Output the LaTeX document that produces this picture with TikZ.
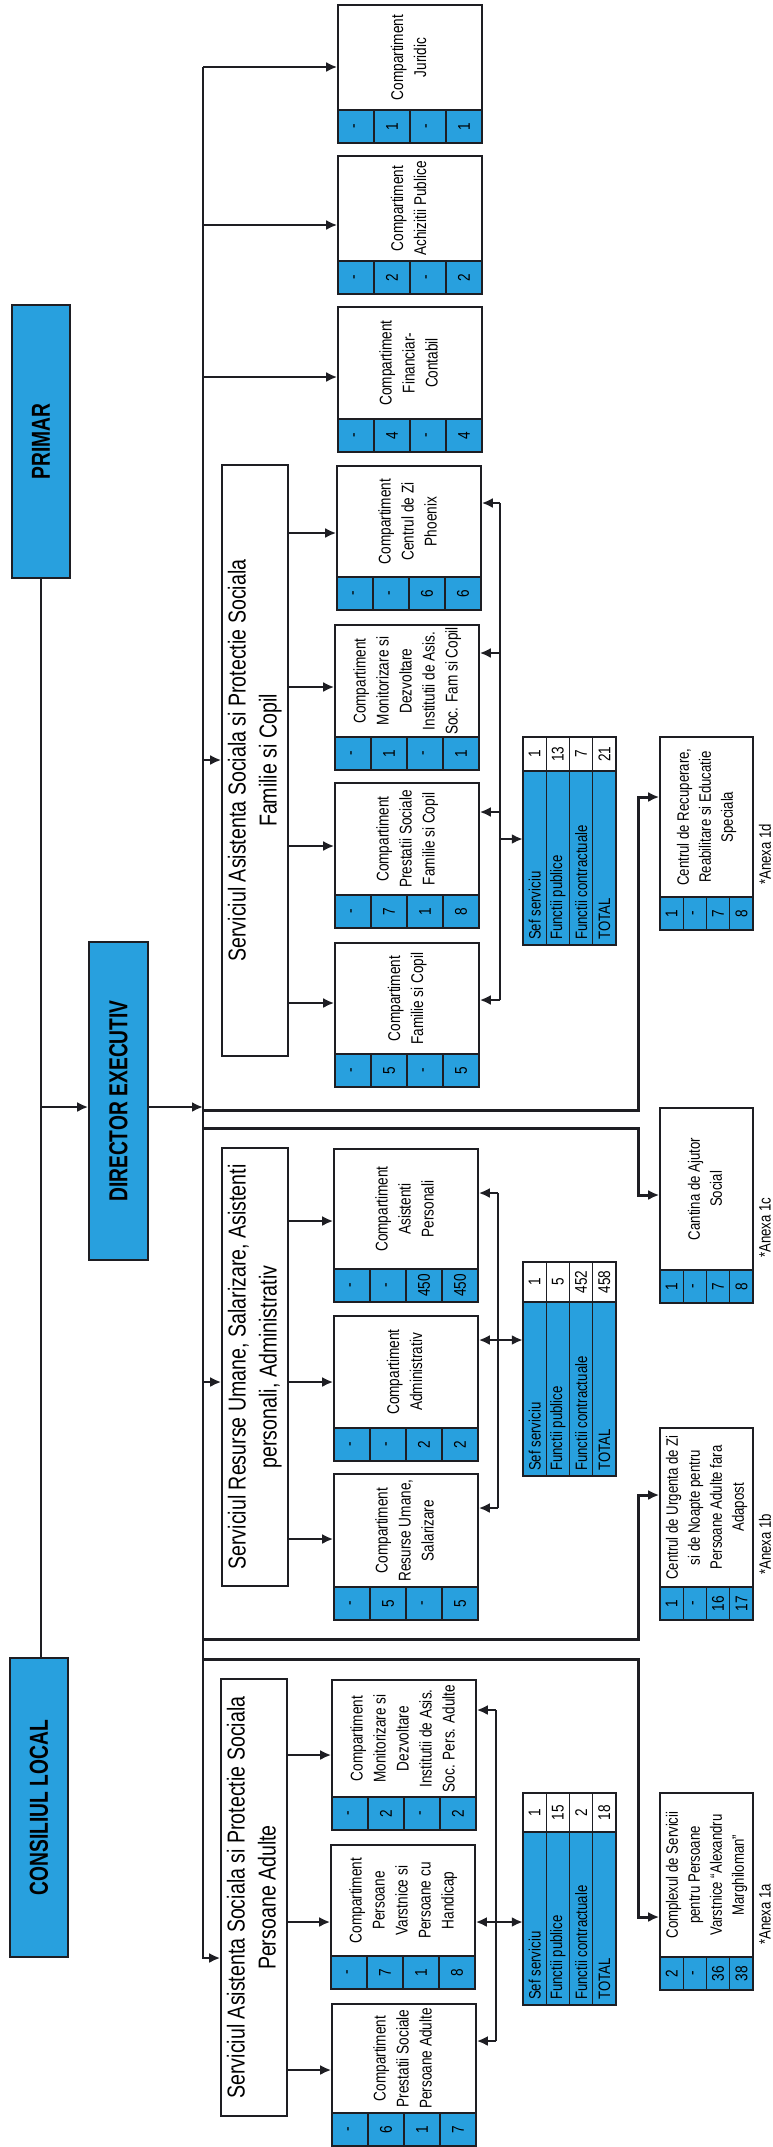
\documentclass[tikz,border=0pt]{standalone}
\usepackage{fontspec}
\setmainfont{Liberation Sans}[FakeStretch=0.8]
\newfontfamily\titlefont{Liberation Sans}[FakeStretch=0.74]
\usepackage{graphicx}
\usetikzlibrary{arrows.meta,calc}
\definecolor{cblue}{RGB}{40,160,222}
\definecolor{lc}{RGB}{30,30,35}

\newcommand{\rot}[1]{\rotatebox{90}{#1}}
\newcommand{\ml}[1]{\rotatebox{90}{\begin{tabular}{@{}c@{}}#1\end{tabular}}}

\tikzset{
 box/.style={draw=lc, line width=1.6pt, fill=white, inner sep=0pt},
 tbox/.style={draw=lc, line width=1.6pt, fill=cblue, inner sep=0pt, font=\titlefont\bfseries\fontsize{26}{30}\selectfont},
 ctext/.style={inner sep=0pt, font=\fontsize{17}{23}\selectfont},
 atext/.style={inner sep=0pt, font=\fontsize{16.5}{22}\selectfont},
 stext/.style={inner sep=0pt, font=\fontsize{24.5}{31}\selectfont},
 cell/.style={draw=lc, line width=1.4pt, fill=cblue, inner sep=0pt, minimum height=33pt, font=\fontsize{17}{20}\selectfont},
 vcell/.style={draw=lc, line width=1.4pt, fill=white, inner sep=0pt, font=\fontsize{17}{20}\selectfont},
 bcell/.style={draw=lc, line width=1.4pt, fill=cblue, inner sep=0pt},
 lab/.style={inner sep=0pt, font=\fontsize{16.5}{20}\selectfont},
 ln/.style={draw=lc, line width=2.2pt},
 arr/.style={draw=lc, line width=2.2pt, -{Latex[length=11pt,width=10pt]}},
 hvy/.style={line width=3pt},
}

% compartment: name, xleft, ytop, ybot, text, v1..v4
\newcommand{\comp}[9]{%
  \node[box, minimum width=144, minimum height={#4-#3}] (#1) at ({#2+72},{(#3+#4)/2}) {};
  \node[ctext] (#1t) at ({#2+72},{(#3+#4-33)/2}) {\ml{#5}};
  \node[cell, minimum width=36] (#1a) at ({#2+18},{#4-16.5}) {\rot{#6}};
  \node[cell, minimum width=36] (#1b) at ({#2+54},{#4-16.5}) {\rot{#7}};
  \node[cell, minimum width=36] (#1c) at ({#2+90},{#4-16.5}) {\rot{#8}};
  \node[cell, minimum width=36] (#1d) at ({#2+126},{#4-16.5}) {\rot{#9}};
}
% annex box: name, ytop, ybot, text, v1..v4, label
\newcommand{\annex}[9]{%
  \node[box, minimum width=93, minimum height={#3-#2}] (#1) at (706.5,{(#2+#3)/2}) {};
  \node[atext] (#1t) at (706.5,{(#2+#3-33)/2}) {\ml{#4}};
  \node[cell, minimum width=23.25] (#1a) at (671.6,{#3-16.5}) {\rot{#5}};
  \node[cell, minimum width=23.25] (#1b) at (694.9,{#3-16.5}) {\rot{#6}};
  \node[cell, minimum width=23.25] (#1c) at (718.1,{#3-16.5}) {\rot{#7}};
  \node[cell, minimum width=23.25] (#1d) at (741.4,{#3-16.5}) {\rot{#8}};
  \node[lab, anchor=south] (#1x) at (765,{#3-45}) {\rot{#9}};
}
% staff table: name, ytop, yval, ybot, v1..v4
\newcommand{\seftab}[8]{%
  \node[inner sep=0pt, minimum width=93, minimum height={#4-#2}] (#1) at (569.5,{(#2+#4)/2}) {};
  \foreach \i/\v/\l in {0/#5/Sef serviciu,1/#6/Functii publice,2/#7/Functii contractuale,3/#8/TOTAL} {
    \node[vcell, minimum width=23.25, minimum height={#3-#2}] (#1v\i) at ({534.6+23.25*\i},{(#2+#3)/2}) {\rot{\v}};
    \node[bcell, minimum width=23.25, minimum height={#4-#3}] (#1b\i) at ({534.6+23.25*\i},{(#3+#4)/2}) {};
    \node[lab, anchor=south] (#1l\i) at ({534.6+23.25*\i},{#4-5}) {\rot{\l}};
  }
}

\begin{document}
\begin{tikzpicture}[x=1pt,y=-1pt]
\useasboundingbox (0,0) rectangle (773,2147);
\fill[white] (0,0) rectangle (773,2147);

% top level
\node[tbox, minimum width=58, minimum height=273] (primar) at (41,441.5) {\rot{PRIMAR}};
\node[tbox, minimum width=58, minimum height=299] (consiliul) at (39,1807.5) {\rot{CONSILIUL LOCAL}};
\node[tbox, minimum width=59, minimum height=318] (director) at (118.5,1101) {\rot{DIRECTOR EXECUTIV}};

% services
\node[box, minimum width=66, minimum height=591] (sF) at (255,760.5) {};
\node[stext] (sFt) at (255,760.5) {\ml{Serviciul Asistenta Sociala si Protectie Sociala\\Familie si Copil}};
\node[box, minimum width=66, minimum height=438] (sR) at (255,1367) {};
\node[stext] (sRt) at (255,1367) {\ml{Serviciul Resurse Umane, Salarizare, Asistenti\\personali, Administrativ}};
\node[box, minimum width=66, minimum height=437] (sA) at (254,1897.5) {};
\node[stext] (sAt) at (254,1897.5) {\ml{Serviciul Asistenta Sociala si Protectie Sociala\\Persoane Adulte}};

% compartments
\comp{c1}{338}{5}{143}{Compartiment\\Juridic}{-}{1}{-}{1}
\comp{c2}{338}{156}{294}{Compartiment\\Achizitii Publice}{-}{2}{-}{2}
\comp{c3}{338}{307}{452}{Compartiment\\Financiar-\\Contabil}{-}{4}{-}{4}
\comp{c4}{337}{466}{610}{Compartiment\\Centrul de Zi\\Phoenix}{-}{-}{6}{6}
\comp{c5}{335}{625}{770}{Compartiment\\Monitorizare si\\Dezvoltare\\Institutii de Asis.\\Soc. Fam si Copil}{-}{1}{-}{1}
\comp{c6}{335}{783}{928}{Compartiment\\Prestatii Sociale\\Familie si Copil}{-}{7}{1}{8}
\comp{c7}{335}{943}{1087}{Compartiment\\Familie si Copil}{-}{5}{-}{5}
\comp{c8}{334}{1149}{1302}{Compartiment\\Asistenti\\Personali}{-}{-}{450}{450}
\comp{c9}{334}{1316}{1461}{Compartiment\\Administrativ}{-}{-}{2}{2}
\comp{c10}{334}{1474}{1620}{Compartiment\\Resurse Umane,\\Salarizare}{-}{5}{-}{5}
\comp{c11}{332}{1680}{1830}{Compartiment\\Monitorizare si\\Dezvoltare\\Institutii de Asis.\\Soc. Pers. Adulte}{-}{2}{-}{2}
\comp{c12}{331}{1845}{1989}{Compartiment\\Persoane\\Varstnice si\\Persoane cu\\Handicap}{-}{7}{1}{8}
\comp{c13}{332}{2004}{2146}{Compartiment\\Prestatii Sociale\\Persoane Adulte}{-}{6}{1}{7}

% staff tables
\seftab{tF}{737}{771}{945}{1}{13}{7}{21}
\seftab{tR}{1262}{1302}{1476}{1}{5}{452}{458}
\seftab{tA}{1793}{1832}{2005}{1}{15}{2}{18}

% annexes
\annex{ann1}{737}{930}{Centrul de Recuperare,\\Reabilitare si Educatie\\Speciala}{1}{-}{7}{8}{*Anexa 1d}
\annex{ann2}{1108}{1303}{Cantina de Ajutor\\Social}{1}{-}{7}{8}{*Anexa 1c}
\annex{ann3}{1428}{1620}{Centrul de Urgenta de Zi\\si de Noapte pentru\\Persoane Adulte fara\\Adapost}{1}{-}{16}{17}{*Anexa 1b}
\annex{ann4}{1793}{1990}{Complexul de Servicii\\pentru Persoane\\Varstnice ``Alexandru\\Marghiloman''}{2}{-}{36}{38}{*Anexa 1a}

% coordinates on the main line
\coordinate (m1) at (203,67);
\coordinate (m2) at (203,225);
\coordinate (m3) at (203,377);
\coordinate (mF) at (203,760);
\coordinate (mD) at (203,1107);
\coordinate (mR) at (203,1382);
\coordinate (mbot) at (203,1958);

% top-level connectors
\draw[ln] (primar.south) -- (primar.south |- consiliul.north);
\draw[arr] (primar.south |- mD) -- (director.west |- mD);
\draw[arr] (director.east |- mD) -- (mD);

% main line
\draw[arr] (m1) -- (mbot) -- (mbot -| sA.west);
\draw[arr] (m1) -- (m1 -| c1.west);
\draw[arr] (m2) -- (m2 -| c2.west);
\draw[arr] (m3) -- (m3 -| c3.west);
\draw[arr] (mF) -- (mF -| sF.west);
\draw[arr] (mR) -- (mR -| sR.west);

% service -> compartments
\coordinate (s4) at (288,533);
\coordinate (s5) at (288,687);
\coordinate (s6) at (288,846);
\coordinate (s7) at (288,1003);
\coordinate (s8) at (288,1221);
\coordinate (s9) at (288,1382);
\coordinate (s10) at (288,1539);
\coordinate (s11) at (287,1755);
\coordinate (s12) at (287,1922);
\coordinate (s13) at (287,2070);
\foreach \k in {4,...,13} {\draw[arr] (s\k) -- (s\k -| c\k.west);}

% right-hand lines (Familie)
\coordinate (rF4) at (500,503);
\coordinate (rF5) at (500,653);
\coordinate (rF6) at (500,812);
\coordinate (rFt) at (500,839);
\coordinate (rF7) at (500,1000);
\draw[ln] (rF4) -- (rF7);
\draw[arr] (rF4) -- (rF4 -| c4.east);
\draw[arr] (rF5) -- (rF5 -| c5.east);
\draw[arr] (rF6) -- (rF6 -| c6.east);
\draw[arr] (rF7) -- (rF7 -| c7.east);
\draw[arr] (rFt) -- (rFt -| tF.west);

% right-hand lines (Resurse)
\coordinate (rR8) at (498,1193);
\coordinate (rR9) at (498,1340);
\coordinate (rR10) at (498,1508);
\draw[ln] (rR8) -- (rR10);
\draw[arr] (rR8) -- (rR8 -| c8.east);
\draw[arr] (rR9) -- (rR9 -| c9.east);
\draw[arr] (rR10) -- (rR10 -| c10.east);
\draw[arr] (rR9) -- (rR9 -| tR.west);

% right-hand lines (Adulte)
\coordinate (rA11) at (496,1710);
\coordinate (rA12) at (496,1922);
\coordinate (rA13) at (496,2041);
\draw[ln] (rA11) -- (rA13);
\draw[arr] (rA11) -- (rA11 -| c11.east);
\draw[arr] (rA12) -- (rA12 -| c12.east);
\draw[arr] (rA13) -- (rA13 -| c13.east);
\draw[arr] (rA12) -- (rA12 -| tA.west);

% annex connectors
\coordinate (a1s) at (203,1110);
\coordinate (a1e) at (638,797);
\coordinate (a2s) at (203,1128);
\coordinate (a2e) at (638,1195);
\coordinate (a3s) at (203,1639);
\coordinate (a3e) at (638,1495);
\coordinate (a4s) at (203,1659);
\coordinate (a4e) at (638,1917);
\draw[arr, hvy] (a1s) -| (a1e) -- (a1e -| ann1.west);
\draw[arr, hvy] (a2s) -| (a2e) -- (a2e -| ann2.west);
\draw[arr, hvy] (a3s) -| (a3e) -- (a3e -| ann3.west);
\draw[arr, hvy] (a4s) -| (a4e) -- (a4e -| ann4.west);
\end{tikzpicture}
\end{document}
